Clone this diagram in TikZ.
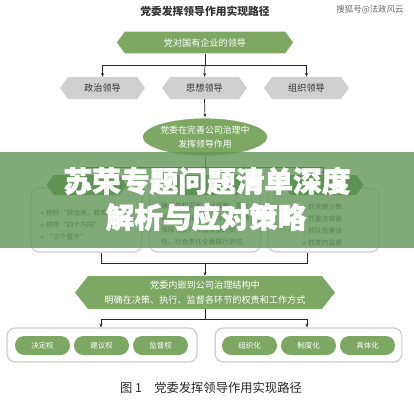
\documentclass[tikz,border=0pt]{standalone}
\usepackage{fontspec}
\setmainfont{Noto Sans CJK SC}
\newfontfamily\dickfont{Noto Sans CJK SC}[BoldFeatures={FakeBold=2}]
\usetikzlibrary{shapes.symbols,shapes.geometric,arrows.meta}

\definecolor{gruen}{RGB}{124,168,100}
\definecolor{dunkelgruen}{RGB}{70,132,56}
\definecolor{grau}{RGB}{208,208,208}
\definecolor{banner}{RGB}{100,152,90}

\tikzset{
  sechseck/.style={signal, signal to=east and west, signal pointer angle=108,
    inner sep=0pt, text=white},
  linie/.style={line width=0.6pt, black!85},
  pfeil/.style={linie, -{Stealth[length=3.2pt,width=2.6pt]}},
  kasten/.style={draw=black!20, line width=1pt, rounded corners=7pt, fill=white},
  pille/.style={fill=gruen, rounded corners=2.8mm, minimum width=16.5mm,
    minimum height=5.7mm, inner sep=0pt, text=white, font=\fontsize{6.4}{8}\selectfont},
  klein/.style={font=\fontsize{5.8}{7}\selectfont, text=black!85, anchor=west}
}

\begin{document}
\begin{tikzpicture}[x=0.3mm, y=-0.3mm, every node/.style={font=\fontsize{7.8}{10}\selectfont}]
  \useasboundingbox (0,0) rectangle (414,400);

  % Titel und Quelle
  \node[font=\fontsize{9.2}{11}\bfseries\selectfont, text=black!80] (titel) at (205,11) {党委发挥领导作用实现路径};
  \node[font=\fontsize{7.2}{9}\selectfont, text=black!60] (quelle) at (370,10) {搜狐号@法政风云};

  % obere Ebene
  \node[sechseck, fill=gruen, minimum width=52.8mm, minimum height=6.5mm] (fuehrung) at (205,42.5) {党对国有企业的领导};
  \node[sechseck, fill=grau, text=black!80, minimum width=25.5mm, minimum height=6.6mm] (politik) at (102.5,88) {政治领导};
  \node[sechseck, fill=grau, text=black!80, minimum width=25.5mm, minimum height=6.6mm] (denken) at (204.5,88) {思想领导};
  \node[sechseck, fill=grau, text=black!80, minimum width=25.5mm, minimum height=6.6mm] (organ) at (306.5,88) {组织领导};

  \coordinate (v1) at (205,65);
  \coordinate (v1l) at (102.5,65);
  \coordinate (v1r) at (306.5,65);
  \draw[linie] (fuehrung.south) -- (v1);
  \draw[linie] (v1l) -- (v1r);
  \draw[pfeil] (v1l) -- (politik.north);
  \draw[pfeil] (v1) -- (denken.north);
  \draw[pfeil] (v1r) -- (organ.north);

  % Ellipse
  \node[ellipse, fill=gruen, draw=white, line width=1pt, minimum width=36mm, minimum height=11.5mm,
    inner sep=0pt, text=white, align=center, font=\fontsize{7.6}{12}\selectfont] (ellipse) at (205,137)
    {党委在完善公司治理中\\发挥领导作用};
  \draw[pfeil] (denken.south) -- (ellipse.north);

  % mittlere Ebene (unter dem Banner)
  \node[kasten, minimum width=33.3mm, minimum height=19.2mm] (boxl) at (86.5,220) {};
  \node[kasten, minimum width=33.3mm, minimum height=19.2mm] (boxm) at (205,220) {};
  \node[kasten, minimum width=33.3mm, minimum height=19.2mm] (boxr) at (323.5,220) {};
  \node[sechseck, fill=dunkelgruen, minimum width=24mm, minimum height=6mm] (kopfl) at (86.5,185) {};
  \node[sechseck, fill=dunkelgruen, minimum width=24mm, minimum height=6mm] (kopfm) at (205,185) {};
  \node[sechseck, fill=dunkelgruen, minimum width=24mm, minimum height=6mm] (kopfr) at (323.5,185) {};

  \coordinate (v2) at (205,167);
  \coordinate (v2l) at (86.5,167);
  \coordinate (v2r) at (323.5,167);
  \draw[linie] (ellipse.south) -- (v2);
  \draw[linie] (v2l) -- (v2r);
  \draw[pfeil] (v2l) -- (kopfl.north);
  \draw[pfeil] (v2) -- (kopfm.north);
  \draw[pfeil] (v2r) -- (kopfr.north);

  \node[klein] (l1) at (36,213) {\textcolor{black!40}{$\bullet$} 把好“政治关、政策关”};
  \node[klein] (l2) at (36,225) {\textcolor{black!40}{$\bullet$} 把牢“四个方向”};
  \node[klein] (l3) at (36,237) {\textcolor{black!40}{$\bullet$} “三个看齐”};
  \node[klein] (m1) at (157,206) {确保党和国家方针政策、重大};
  \node[klein] (m2) at (157,218) {部署在企业贯彻执行到位，确};
  \node[klein] (m3) at (157,230) {保国有资产保值增值的责};
  \node[klein] (m4) at (157,242) {任、社会责任全面履行到位};
  \node[klein] (r1) at (298,207) {\textcolor{black!40}{$\bullet$} 抓关键少数};
  \node[klein] (r2) at (298,219) {\textcolor{black!40}{$\bullet$} 抓重点突破};
  \node[klein] (r3) at (298,231) {\textcolor{black!40}{$\bullet$} 抓队伍建设};
  \node[klein] (r4) at (298,243) {\textcolor{black!40}{$\bullet$} 抓党内监督};

  % Banner
  \fill[banner, opacity=0.82] (0,152) rectangle (414,247.5);
  \node[text=white, font=\dickfont\fontsize{24.5}{30}\bfseries\selectfont] (zeile1) at (207,181) {苏荣专题问题清单深度};
  \node[text=white, font=\dickfont\fontsize{24.5}{30}\bfseries\selectfont] (zeile2) at (206,217) {解析与应对策略};

  % untere Ebene
  \node[sechseck, signal pointer angle=103, fill=gruen, minimum width=78mm, minimum height=9.9mm,
    align=center, font=\fontsize{7.8}{13}\selectfont] (einbettung) at (205,292.5)
    {党委内嵌到公司治理结构中\\明确在决策、执行、监督各环节的权责和工作方式};

  \coordinate (v3) at (205,263);
  \coordinate (v3l) at (101,263);
  \coordinate (v3r) at (307,263);
  \draw[linie] (v3l |- boxl.south) -- (v3l) -- (v3r) -- (v3r |- boxr.south);
  \draw[pfeil] (v3) -- (einbettung.north);

  \node[kasten, minimum width=57mm, minimum height=10.2mm] (rechte) at (102,345) {};
  \node[kasten, minimum width=56mm, minimum height=10.2mm] (formen) at (308.5,345) {};

  \coordinate (v4) at (205,319);
  \coordinate (v4l) at (101,319);
  \coordinate (v4r) at (307,319);
  \draw[linie] (einbettung.south) -- (v4);
  \draw[linie] (v4l) -- (v4r);
  \draw[pfeil] (v4l) -- (v4l |- rechte.north);
  \draw[pfeil] (v4r) -- (v4r |- formen.north);

  \node[pille] (entscheid) at (42.5,345.5) {决定权};
  \node[pille] (vorschlag) at (101.5,345.5) {建议权};
  \node[pille] (aufsicht) at (160.5,345.5) {监督权};
  \node[pille] (organisiert) at (249.5,345.5) {组织化};
  \node[pille] (geregelt) at (308.5,345.5) {制度化};
  \node[pille] (konkret) at (367.5,345.5) {具体化};

  % Bildunterschrift
  \node[font=\fontsize{10.5}{12}\selectfont, text=black!85] (unterschrift) at (211,388) {图 1\quad 党委发挥领导作用实现路径};
\end{tikzpicture}
\end{document}
